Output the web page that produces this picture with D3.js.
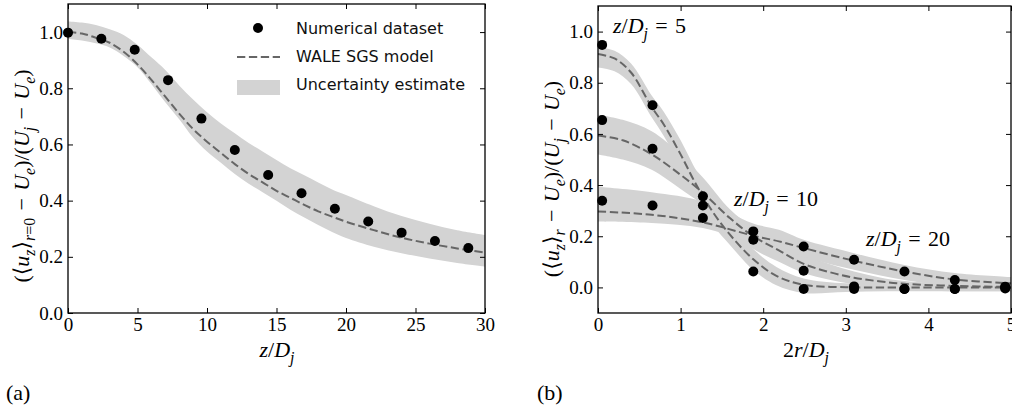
<!DOCTYPE html>
<html>
<head>
<meta charset="utf-8">
<script src="https://cdn.jsdelivr.net/npm/d3@7"></script>
<style>
  html, body { margin: 0; padding: 0; background: #fff; }
  svg { display: block; }
</style>
</head>
<body>
<svg id="fig" width="1012" height="414"></svg>
<script>
// ---------- (a) centreline velocity decay ----------
const axialPosition = [0, 2.4, 4.8, 7.2, 9.6, 12.0, 14.4, 16.8, 19.2, 21.6, 24.0, 26.4, 28.8];
const axialDataset  = [0.998, 0.976, 0.937, 0.829, 0.692, 0.58, 0.491, 0.426, 0.371, 0.326, 0.286, 0.256, 0.231];

const axialGrid  = [0, 1, 2, 3, 4, 5, 6, 7, 8, 9, 10, 11, 12, 13, 14, 15, 16, 17, 18, 19, 20, 22, 24, 26, 28, 30];
const axialModel = [1.0, 0.995, 0.98, 0.962, 0.93, 0.885, 0.83, 0.77, 0.71, 0.655, 0.61, 0.57, 0.53, 0.495,
                    0.465, 0.435, 0.41, 0.385, 0.362, 0.343, 0.325, 0.295, 0.268, 0.247, 0.23, 0.215];
const axialUpper = [1.038, 1.034, 1.025, 1.01, 0.99, 0.955, 0.91, 0.865, 0.81, 0.76, 0.715, 0.675, 0.64, 0.605,
                    0.575, 0.545, 0.515, 0.49, 0.465, 0.44, 0.42, 0.38, 0.345, 0.318, 0.295, 0.278];
const axialLower = [0.975, 0.97, 0.96, 0.945, 0.915, 0.875, 0.815, 0.75, 0.69, 0.625, 0.575, 0.535, 0.495, 0.46,
                    0.43, 0.4, 0.368, 0.34, 0.313, 0.288, 0.267, 0.236, 0.213, 0.194, 0.178, 0.165];

const axialXTicks = [0, 5, 10, 15, 20, 25, 30];
const axialYTicks = [0, 0.2, 0.4, 0.6, 0.8, 1.0];

// ---------- (b) radial profiles at three stations ----------
const radialPosition = [0.05, 0.66, 1.27, 1.88, 2.49, 3.10, 3.71, 4.32, 4.93];
const stationLabels  = ["5", "10", "20"];

const z5Dataset  = [0.948, 0.712, 0.356, 0.062, -0.006, -0.006, -0.006, -0.006, -0.004];
const z10Dataset = [0.654, 0.542, 0.320, 0.186, 0.065, 0.004, -0.006, -0.006, 0.000];
const z20Dataset = [0.339, 0.320, 0.271, 0.219, 0.160, 0.108, 0.062, 0.029, 0.003];

const z5Grid  = [0, 0.2, 0.4, 0.65, 0.8, 1.0, 1.2, 1.4, 1.6, 1.88, 2.16, 2.49, 3.0, 3.5, 4.0, 4.5, 5.0];
const z5Model = [0.912, 0.895, 0.84, 0.705, 0.635, 0.52, 0.395, 0.29, 0.205, 0.11, 0.045, 0.01, 0.001, 0, 0, 0, 0];
const z5Upper = [0.94, 0.925, 0.875, 0.75, 0.685, 0.575, 0.45, 0.345, 0.255, 0.15, 0.08, 0.035, 0.016, 0.013, 0.012, 0.012, 0.012];
const z5Lower = [0.86, 0.845, 0.795, 0.665, 0.59, 0.47, 0.34, 0.24, 0.165, 0.068, 0.008, -0.022, -0.018, -0.015, -0.015, -0.015, -0.015];

const z10Grid  = [0, 0.3, 0.65, 1.0, 1.27, 1.6, 1.88, 2.19, 2.49, 2.8, 3.1, 3.4, 3.71, 4.32, 5.0];
const z10Model = [0.594, 0.575, 0.52, 0.44, 0.37, 0.27, 0.2, 0.145, 0.092, 0.06, 0.038, 0.024, 0.014, 0.006, 0.002];
const z10Upper = [0.675, 0.655, 0.61, 0.52, 0.43, 0.305, 0.235, 0.18, 0.13, 0.092, 0.062, 0.04, 0.025, 0.015, 0.012];
const z10Lower = [0.52, 0.5, 0.46, 0.385, 0.323, 0.22, 0.15, 0.1, 0.056, 0.03, 0.012, 0.0, -0.01, -0.015, -0.015];

const z20Grid  = [0, 0.65, 1.27, 1.88, 2.19, 2.49, 3.1, 3.71, 4.32, 5.0];
const z20Model = [0.297, 0.284, 0.254, 0.202, 0.18, 0.154, 0.104, 0.062, 0.031, 0.016];
const z20Upper = [0.393, 0.372, 0.336, 0.25, 0.225, 0.186, 0.134, 0.088, 0.056, 0.04];
const z20Lower = [0.258, 0.252, 0.232, 0.175, 0.16, 0.12, 0.069, 0.029, 0.003, -0.01];

const radialXTicks = [0, 1, 2, 3, 4, 5];
const radialYTicks = [0, 0.2, 0.4, 0.6, 0.8, 1.0];

const legendLabels = ["Numerical dataset", "WALE SGS model", "Uncertainty estimate"];

// ---------- styling ----------
const SERIF = "'Liberation Serif', 'DejaVu Serif', serif";
const SANS  = "'DejaVu Sans', sans-serif";
const BAND  = "#d3d3d3";
const DASH  = "#666666";
const TICK_FONT = 19;
const MATH_FONT = 22;
const CURVE = d3.curveCatmullRom.alpha(0.5);

const svg = d3.select("#fig");

// Text with italic variables and subscripts, built from [string, kind] parts.
// kind: "r" roman, "i" italic, "sr" subscript roman, "si" subscript italic
function mathText(parent, parts, size) {
  const t = parent.append("text")
    .attr("font-family", SERIF)
    .attr("font-size", size)
    .attr("fill", "#000");
  let shift = 0;
  parts.forEach(([s, kind]) => {
    const sub = kind.startsWith("s");
    const ts = t.append("tspan").text(s);
    if (kind.endsWith("i")) ts.attr("font-style", "italic");
    if (sub) ts.attr("font-size", size * 0.72);
    const want = sub ? size * 0.28 : 0;
    if (want !== shift) { ts.attr("dy", want - shift); shift = want; }
  });
  return t;
}

const SP = "\u2004";   // three-per-em space around relations and binary operators

function panel(cfg) {
  const { x, y, xTicks, yTicks, yFmt, clipId } = cfg;
  const g = svg.append("g");
  const [x0, x1] = x.range();
  const [y0, y1] = y.range();

  svg.append("clipPath").attr("id", clipId)
    .append("rect").attr("x", x0).attr("y", y1).attr("width", x1 - x0).attr("height", y0 - y1);

  const plot = g.append("g").attr("clip-path", `url(#${clipId})`);
  const marks = g.append("g");

  // axes with inward ticks on all four sides
  const styleAxis = sel => {
    sel.select(".domain").remove();
    sel.selectAll(".tick line").attr("stroke", "#000").attr("stroke-width", 1);
    sel.selectAll(".tick text").attr("font-family", SERIF).attr("font-size", TICK_FONT).attr("fill", "#000");
  };
  g.append("g").attr("transform", `translate(0,${y0})`)
    .call(d3.axisBottom(x).tickValues(xTicks).tickFormat(d3.format("d")).tickSize(-5).tickPadding(5))
    .call(styleAxis);
  g.append("g").attr("transform", `translate(0,${y1})`)
    .call(d3.axisTop(x).tickValues(xTicks).tickFormat("").tickSize(-5))
    .call(styleAxis);
  g.append("g").attr("transform", `translate(${x0},0)`)
    .call(d3.axisLeft(y).tickValues(yTicks).tickFormat(d3.format(yFmt)).tickSize(-5).tickPadding(5))
    .call(styleAxis);
  g.append("g").attr("transform", `translate(${x1},0)`)
    .call(d3.axisRight(y).tickValues(yTicks).tickFormat("").tickSize(-5))
    .call(styleAxis);

  g.append("rect")
    .attr("x", x0).attr("y", y1).attr("width", x1 - x0).attr("height", y0 - y1)
    .attr("fill", "none").attr("stroke", "#000").attr("stroke-width", 1.3);

  return { g, plot, marks };
}

function drawSeries(p, x, y, grid, model, upper, lower) {
  const rows = grid.map((v, i) => ({ x: v, m: model[i], u: upper[i], l: lower[i] }));
  p.plot.append("path").datum(rows)
    .attr("fill", BAND)
    .attr("d", d3.area().curve(CURVE).x(d => x(d.x)).y0(d => y(d.l)).y1(d => y(d.u)));
  return rows;
}
function drawModel(p, x, y, rows) {
  p.plot.append("path").datum(rows)
    .attr("fill", "none").attr("stroke", DASH).attr("stroke-width", 2)
    .attr("stroke-dasharray", "8.3 3.6")
    .attr("d", d3.line().curve(CURVE).x(d => x(d.x)).y(d => y(d.m)));
}
function drawDots(p, x, y, xs, ys) {
  p.marks.selectAll(null).data(xs.map((v, i) => [v, ys[i]])).join("circle")
    .attr("cx", d => x(d[0])).attr("cy", d => y(d[1])).attr("r", 5).attr("fill", "#000");
}

// ---------- panel (a) ----------
const xa = d3.scaleLinear().domain([0, 30]).range([68, 485]);
const ya = d3.scaleLinear().domain([0, 1.1]).range([313, 4]);
const pa = panel({ x: xa, y: ya, xTicks: axialXTicks, yTicks: axialYTicks, yFmt: ".1f", clipId: "clipA" });
const rowsA = drawSeries(pa, xa, ya, axialGrid, axialModel, axialUpper, axialLower);
drawModel(pa, xa, ya, rowsA);
drawDots(pa, xa, ya, axialPosition, axialDataset);

// legend
const leg = pa.marks.append("g").attr("font-family", SANS).attr("font-size", 16);
leg.append("circle").attr("cx", 258).attr("cy", 28).attr("r", 5).attr("fill", "#000");
leg.append("line").attr("x1", 237).attr("x2", 280).attr("y1", 57).attr("y2", 57)
  .attr("stroke", DASH).attr("stroke-width", 2).attr("stroke-dasharray", "8.3 3.6");
leg.append("rect").attr("x", 237).attr("y", 80).attr("width", 43).attr("height", 15).attr("fill", BAND);
legendLabels.forEach((s, i) => {
  leg.append("text").attr("x", 296).attr("y", 34 + i * 28).attr("fill", "#111").text(s);
});

// axis titles (a)
mathText(svg.append("g").attr("transform", "translate(277,357)"),
  [["z", "i"], ["/", "r"], ["D", "i"], ["j", "si"]], MATH_FONT).attr("text-anchor", "middle");
mathText(svg.append("g").attr("transform", "translate(29,176) rotate(-90)"),
  [["(⟨", "r"], ["u", "i"], ["z", "si"], ["⟩", "r"], ["r", "si"], ["=0", "sr"],
   [SP + "−" + SP, "r"], ["U", "i"], ["e", "si"], [")/(", "r"], ["U", "i"], ["j", "si"],
   [SP + "−" + SP, "r"], ["U", "i"], ["e", "si"], [")", "r"]], MATH_FONT).attr("text-anchor", "middle");
svg.append("text").attr("x", 6).attr("y", 400).attr("font-family", SERIF).attr("font-size", 22).text("(a)");

// ---------- panel (b) ----------
const xb = d3.scaleLinear().domain([0, 5]).range([598, 1011]);
const yb = d3.scaleLinear().domain([-0.1, 1.1]).range([313, 6]);
const pb = panel({ x: xb, y: yb, xTicks: radialXTicks, yTicks: radialYTicks, yFmt: ".1f", clipId: "clipB" });

const stations = [
  { grid: z5Grid,  model: z5Model,  upper: z5Upper,  lower: z5Lower,  data: z5Dataset },
  { grid: z10Grid, model: z10Model, upper: z10Upper, lower: z10Lower, data: z10Dataset },
  { grid: z20Grid, model: z20Model, upper: z20Upper, lower: z20Lower, data: z20Dataset }
];
const rowsB = stations.map(s => drawSeries(pb, xb, yb, s.grid, s.model, s.upper, s.lower));
rowsB.forEach(r => drawModel(pb, xb, yb, r));
stations.forEach(s => drawDots(pb, xb, yb, radialPosition, s.data));

// station annotations
const stationPos = [[613, 33], [734, 206], [866, 246]];
stationLabels.forEach((lab, i) => {
  mathText(svg.append("g").attr("transform", `translate(${stationPos[i][0]},${stationPos[i][1]})`),
    [["z", "i"], ["/", "r"], ["D", "i"], ["j", "si"], [SP + "=" + SP + lab, "r"]], MATH_FONT);
});

// axis titles (b)
mathText(svg.append("g").attr("transform", "translate(806,357)"),
  [["2", "r"], ["r", "i"], ["/", "r"], ["D", "i"], ["j", "si"]], MATH_FONT).attr("text-anchor", "middle");
mathText(svg.append("g").attr("transform", "translate(559,179) rotate(-90)"),
  [["(⟨", "r"], ["u", "i"], ["z", "si"], ["⟩", "r"], ["r", "si"],
   [SP + "−" + SP, "r"], ["U", "i"], ["e", "si"], [")/(", "r"], ["U", "i"], ["j", "si"],
   [SP + "−" + SP, "r"], ["U", "i"], ["e", "si"], [")", "r"]], MATH_FONT).attr("text-anchor", "middle");
svg.append("text").attr("x", 537).attr("y", 400).attr("font-family", SERIF).attr("font-size", 22).text("(b)");
</script>
</body>
</html>
